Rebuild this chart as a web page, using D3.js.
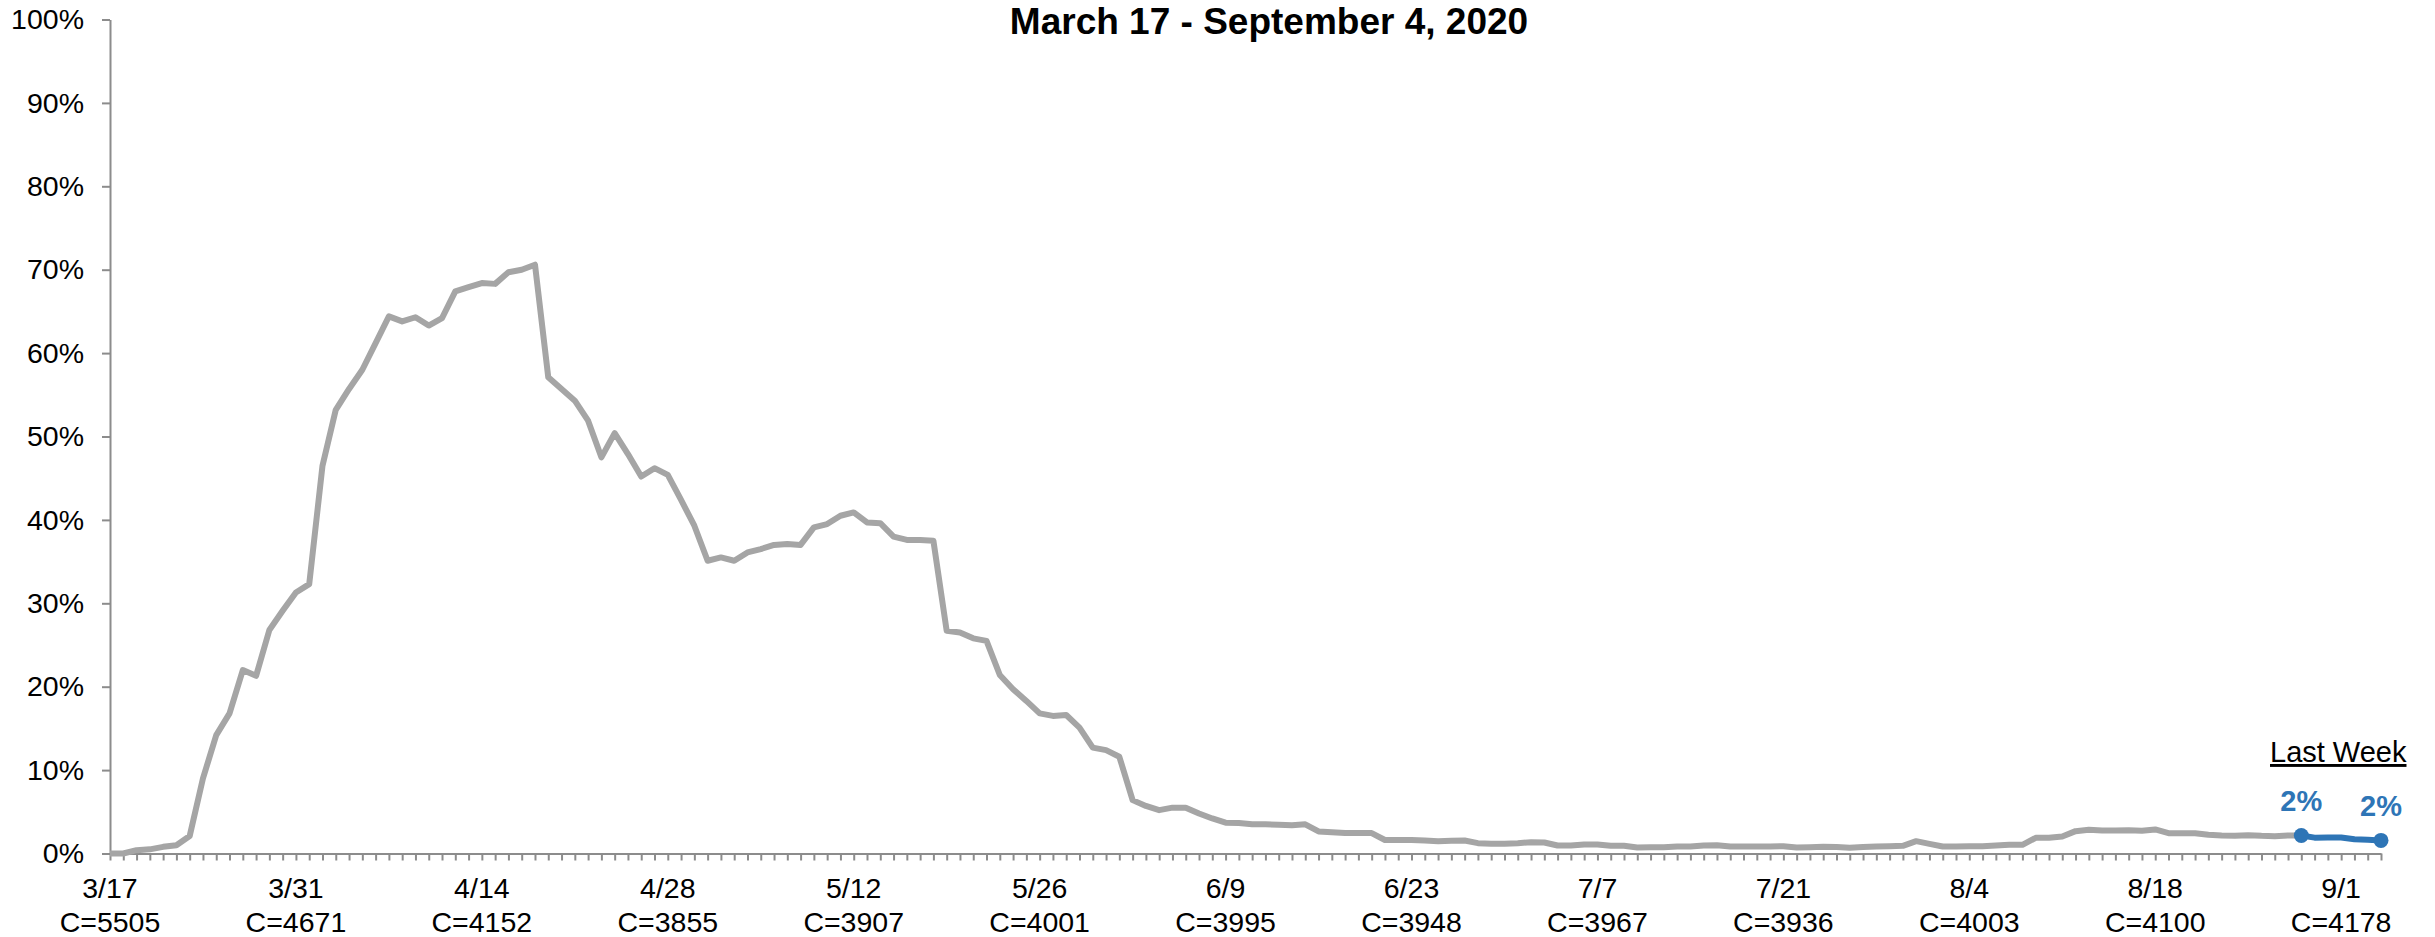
<!DOCTYPE html>
<html>
<head>
<meta charset="utf-8">
<script src="https://cdn.jsdelivr.net/npm/d3@7"></script>
<style>
  html, body { margin: 0; padding: 0; background: #fff; }
  svg { display: block; }
  text { font-family: "Liberation Sans", Arial, sans-serif; }
</style>
</head>
<body>
<svg id="chart" width="2435" height="937"></svg>
<script>
// ---------- DATA ----------
const title = "March 17 - September 4, 2020";
const startDate = "2020-03-17";
const endDate = "2020-09-04";

// daily percentage (grey series), 3/17 .. 8/29
const dailyPct = [
  0, 0, 0.4, 0.5, 0.8, 1.0, 2.1, 9.0, 14.2, 16.8,
  22.0, 21.3, 26.8, 29.1, 31.3, 32.3, 46.5, 53.2, 55.7, 58.0,
  61.2, 64.4, 63.8, 64.3, 63.3, 64.2, 67.4, 67.9, 68.4, 68.3,
  69.7, 70.0, 70.6, 57.1, 55.7, 54.3, 51.9, 47.5, 50.4, 47.9,
  45.2, 46.2, 45.4, 42.4, 39.3, 35.1, 35.5, 35.1, 36.1, 36.5,
  37.0, 37.1, 37.0, 39.1, 39.5, 40.5, 40.9, 39.7, 39.6, 38.0,
  37.6, 37.6, 37.5, 26.7, 26.5, 25.8, 25.5, 21.4, 19.7, 18.3,
  16.8, 16.5, 16.6, 15.1, 12.7, 12.4, 11.6, 6.4, 5.7, 5.2,
  5.5, 5.5, 4.8, 4.2, 3.7, 3.65, 3.5, 3.5, 3.45, 3.4,
  3.5, 2.65, 2.55, 2.45, 2.45, 2.45, 1.62, 1.62, 1.62, 1.56,
  1.48, 1.52, 1.56, 1.24, 1.16, 1.16, 1.24, 1.36, 1.32, 0.96,
  0.96, 1.08, 1.08, 0.92, 0.92, 0.72, 0.76, 0.76, 0.84, 0.84,
  0.96, 1.0, 0.84, 0.84, 0.84, 0.84, 0.88, 0.72, 0.76, 0.8,
  0.78, 0.68, 0.78, 0.84, 0.88, 0.92, 1.48, 1.16, 0.84, 0.84,
  0.88, 0.88, 0.96, 1.04, 1.04, 1.88, 1.88, 2.04, 2.68, 2.84,
  2.76, 2.76, 2.8, 2.72, 2.88, 2.44, 2.44, 2.44, 2.24, 2.16,
  2.12, 2.2, 2.12, 2.08, 2.16, 2.16
];

// last week (blue series), 8/29 .. 9/4
const lastWeekPct = [2.16, 1.9, 1.92, 1.92, 1.7, 1.65, 1.57];
const lastWeekLabels = ["2%", "", "", "", "", "", "2%"];
const lastWeekTitle = "Last Week";

// labelled x ticks
const tickDates  = ["3/17","3/31","4/14","4/28","5/12","5/26","6/9","6/23","7/7","7/21","8/4","8/18","9/1"];
const tickCounts = ["C=5505","C=4671","C=4152","C=3855","C=3907","C=4001","C=3995","C=3948","C=3967","C=3936","C=4003","C=4100","C=4178"];

const yTicks = [0, 0.1, 0.2, 0.3, 0.4, 0.5, 0.6, 0.7, 0.8, 0.9, 1.0];

// ---------- STYLE ----------
const greyLine = "#a5a5a5";
const blueLine = "#2e75b6";
const axisColor = "#8c8c8c";

// ---------- SCALES ----------
const parse = d3.timeParse("%Y-%m-%d");
const fmtMD = d3.timeFormat("%-m/%-d");
const days = d3.timeDay.range(parse(startDate), d3.timeDay.offset(parse(endDate), 1)).map(fmtMD);

const x = d3.scalePoint().domain(days).range([110, 2381]);
const y = d3.scaleLinear().domain([0, 1]).range([853.5, 19.5]);

const svg = d3.select("#chart");

// title
svg.append("text")
  .attr("x", 1269).attr("y", 34)
  .attr("text-anchor", "middle")
  .attr("font-weight", "bold")
  .attr("font-size", 37)
  .attr("fill", "#000")
  .text(title);

// y axis
const yAxis = svg.append("g")
  .attr("transform", "translate(110,0)")
  .call(d3.axisLeft(y).tickValues(yTicks).tickFormat(d3.format(".0%")).tickSize(8).tickSizeOuter(0).tickPadding(18));
yAxis.selectAll("path, line").attr("stroke", axisColor).attr("stroke-width", 2);
yAxis.selectAll("text").attr("font-size", 28.5).attr("fill", "#000")
  .attr("font-family", "'Liberation Sans', Arial, sans-serif");

// x axis (tick every day)
const xAxis = svg.append("g")
  .attr("transform", "translate(0,853.5)")
  .call(d3.axisBottom(x).tickFormat("").tickSize(7).tickSizeOuter(0));
xAxis.selectAll("path, line").attr("stroke", axisColor).attr("stroke-width", 2);

// x labels
const xl = svg.append("g");
tickDates.forEach((d, i) => {
  const t = xl.append("text")
    .attr("x", x(d)).attr("text-anchor", "middle")
    .attr("font-size", 28.5).attr("fill", "#000");
  t.append("tspan").attr("x", x(d)).attr("y", 898).text(d);
  t.append("tspan").attr("x", x(d)).attr("y", 932).text(tickCounts[i]);
});

// grey line
const line = d3.line().x(d => x(d.day)).y(d => y(d.v / 100));
const greyData = dailyPct.map((v, i) => ({ day: days[i], v }));
svg.append("path")
  .datum(greyData)
  .attr("fill", "none")
  .attr("stroke", greyLine)
  .attr("stroke-width", 6)
  .attr("stroke-linejoin", "round")
  .attr("d", line);

// blue line
const offset = dailyPct.length - 1;
const blueData = lastWeekPct.map((v, i) => ({ day: days[offset + i], v, label: lastWeekLabels[i] }));
svg.append("path")
  .datum(blueData)
  .attr("fill", "none")
  .attr("stroke", blueLine)
  .attr("stroke-width", 6)
  .attr("stroke-linejoin", "round")
  .attr("d", line);

const ends = blueData.filter(d => d.label);
svg.selectAll("circle.end").data(ends).enter().append("circle")
  .attr("class", "end")
  .attr("cx", d => x(d.day)).attr("cy", d => y(d.v / 100))
  .attr("r", 7.5).attr("fill", blueLine);

svg.selectAll("text.lbl").data(ends).enter().append("text")
  .attr("class", "lbl")
  .attr("x", d => x(d.day)).attr("y", d => y(d.v / 100) - 24)
  .attr("text-anchor", "middle")
  .attr("font-weight", "bold").attr("font-size", 29)
  .attr("fill", blueLine)
  .text(d => d.label);

// "Last Week" header
svg.append("text")
  .attr("x", 2270).attr("y", 762)
  .attr("font-size", 29).attr("fill", "#000")
  .attr("text-decoration", "underline")
  .text(lastWeekTitle);
</script>
</body>
</html>
